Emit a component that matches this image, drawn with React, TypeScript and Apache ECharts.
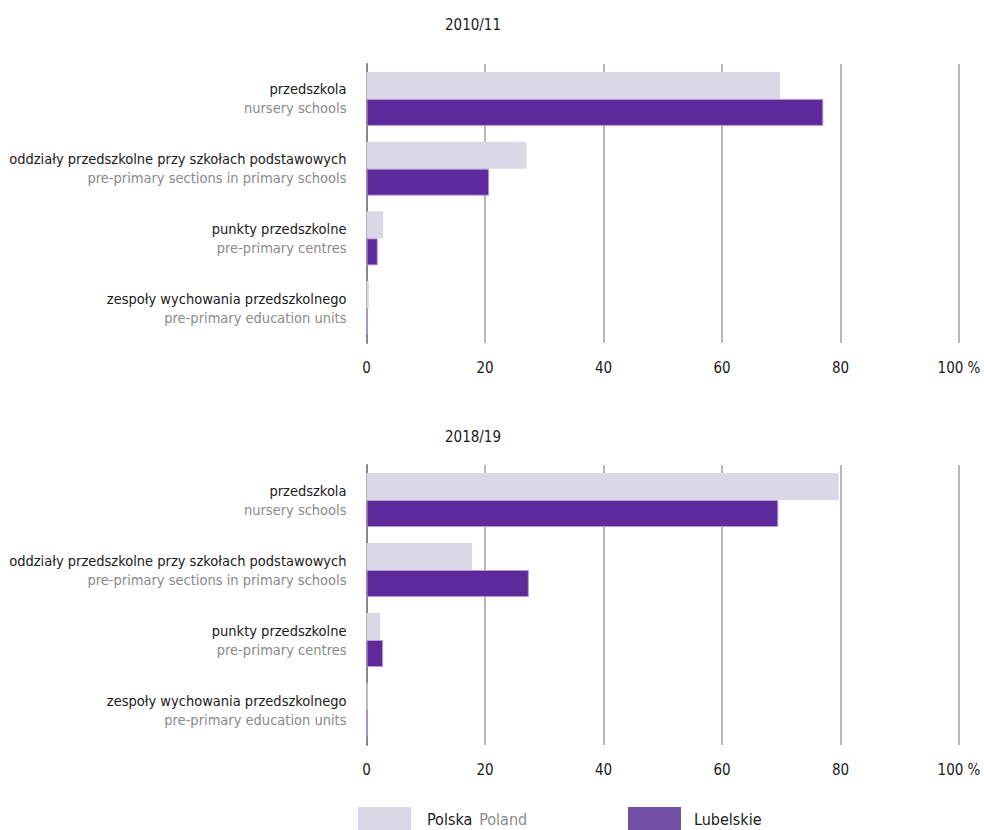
import React, { useEffect, useRef } from "react";
import * as echarts from "echarts";

const categoriesPl = [
  "przedszkola",
  "oddziały przedszkolne przy szkołach podstawowych",
  "punkty przedszkolne",
  "zespoły wychowania przedszkolnego",
];
const categoriesEn = [
  "nursery schools",
  "pre-primary sections in primary schools",
  "pre-primary centres",
  "pre-primary education units",
];
const periods = ["2010/11", "2018/19"];
const polska2010 = [69.8, 27.0, 2.8, 0.4];
const lubelskie2010 = [77.1, 20.7, 1.9, 0.2];
const polska2018 = [79.7, 17.8, 2.3, 0.2];
const lubelskie2018 = [69.5, 27.4, 2.8, 0.15];
const xTicks = [0, 20, 40, 60, 80, 100];

const FONT = "'DejaVu Sans Condensed', 'Liberation Sans Narrow', 'Roboto', sans-serif";
const FS = 14.5;
const C_POL = "#dad8e7";
const C_LUB = "#5d299b";

export default function App() {
  const ref = useRef<HTMLDivElement>(null);
  useEffect(() => {
    document.body.style.margin = "0";
    const chart = echarts.init(ref.current!, null, { renderer: "svg" });
    const cats = categoriesPl.map((_, i) => String(i));
    const grids = [
      { left: 366.5, right: 25, top: 64, height: 279, containLabel: false, outerBoundsMode: "none" },
      { left: 366.5, right: 25, top: 465, height: 280, containLabel: false, outerBoundsMode: "none" },
    ];
    const xAxes = grids.map((_, gi) => ({
      type: "value",
      gridIndex: gi,
      min: xTicks[0],
      max: xTicks[xTicks.length - 1],
      interval: 20,
      axisLine: { show: false },
      axisTick: { show: false },
      splitLine: { show: true, lineStyle: { color: "#a0a0a0", width: 1.5 } },
      axisLabel: {
        fontFamily: FONT,
        fontSize: 15,
        color: "#1a1a1a",
        margin: 17,
        formatter: (v: number) => (v === 100 ? "100 %" : String(v)),
      },
    }));
    const yAxes = grids.map((_, gi) => ({
      type: "category",
      gridIndex: gi,
      inverse: true,
      data: cats,
      axisLine: { show: true, lineStyle: { color: "#888", width: 2 } },
      axisTick: { show: false },
      axisLabel: {
        margin: 20,
        fontFamily: FONT,
        formatter: (v: string) => {
          const i = Number(v);
          return `{a|${categoriesPl[i]}}\n{b|${categoriesEn[i]}}`;
        },
        rich: {
          a: { fontFamily: FONT, fontSize: FS, color: "#1a1a1a", lineHeight: 19, align: "right" },
          b: { fontFamily: FONT, fontSize: FS, color: "#8a8a8a", lineHeight: 19, align: "right" },
        },
      },
    }));
    const mk = (name: string, data: number[], gi: number, color: string, border: boolean) => ({
      name,
      type: "bar",
      xAxisIndex: gi,
      yAxisIndex: gi,
      data,
      barWidth: 27,
      barGap: "0%",
      itemStyle: border
        ? { color, borderColor: "#b59ad6", borderWidth: 1 }
        : { color },
    });
    chart.setOption({
      animation: false,
      textStyle: { fontFamily: FONT },
      grid: grids,
      xAxis: xAxes,
      yAxis: yAxes,
      legend: [
        {
          left: 358,
          top: 807,
          padding: 0,
          itemWidth: 53,
          itemHeight: 24,
          itemGap: 0,
          icon: "rect",
          data: [{ name: "Polska", itemStyle: { color: C_POL } }],
          formatter: () => "{a|Polska}  {b|Poland}",
          textStyle: {
            padding: [0, 0, 0, 11],
            rich: {
              a: { fontFamily: FONT, fontSize: 16, color: "#1a1a1a" },
              b: { fontFamily: FONT, fontSize: 16, color: "#8a8a8a" },
            },
          },
        },
        {
          left: 628,
          top: 807,
          padding: 0,
          itemWidth: 53,
          itemHeight: 24,
          icon: "rect",
          data: [{ name: "Lubelskie", itemStyle: { color: "#704fa5", borderWidth: 0 } }],
          textStyle: { fontFamily: FONT, fontSize: 16, color: "#1a1a1a", padding: [0, 0, 0, 8] },
        },
      ],
      graphic: periods.map((p, i) => ({
        type: "text",
        x: 473,
        y: i === 0 ? 25 : 437,
        style: {
          text: p,
          fontFamily: FONT,
          fontSize: 15,
          fill: "#1a1a1a",
          textAlign: "center",
          textVerticalAlign: "middle",
        },
      })),
      series: [
        mk("Polska", polska2010, 0, C_POL, false),
        mk("Lubelskie", lubelskie2010, 0, C_LUB, true),
        mk("Polska", polska2018, 1, C_POL, false),
        mk("Lubelskie", lubelskie2018, 1, C_LUB, true),
      ],
    });
    return () => chart.dispose();
  }, []);
  return <div ref={ref} style={{ width: 984, height: 830 }} />;
}
